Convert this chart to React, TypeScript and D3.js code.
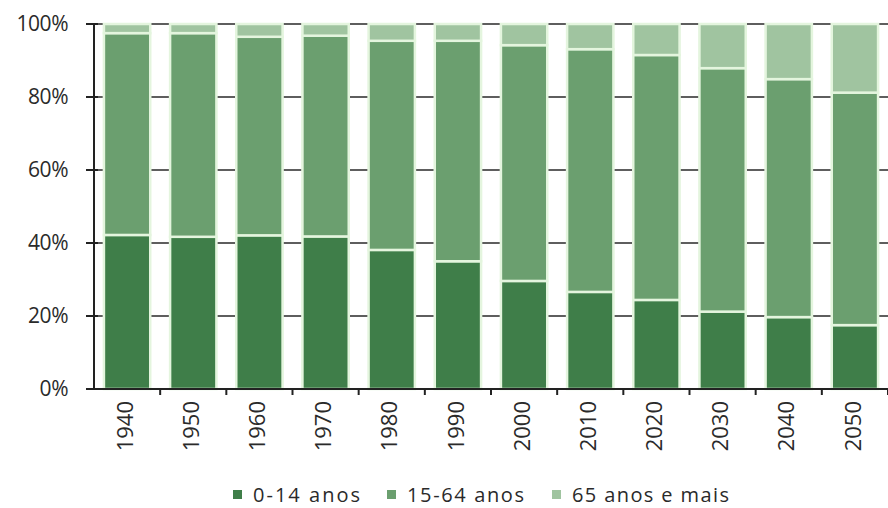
import React from 'react';
import * as d3 from 'd3';

const years = ['1940', '1950', '1960', '1970', '1980', '1990', '2000', '2010', '2020', '2030', '2040', '2050'];
const young = [42.2, 41.7, 42.1, 41.8, 38.1, 35.0, 29.6, 26.6, 24.4, 21.2, 19.7, 17.5];
const old = [2.5, 2.5, 3.5, 3.2, 4.6, 4.6, 5.8, 6.9, 8.5, 12.1, 15.1, 18.8];
const adult = years.map((_, i) => 100 - young[i] - old[i]);

const seriesNames = ['0-14 anos', '15-64 anos', '65 anos e mais'];
const seriesColors = ['#3f7e49', '#6b9f6f', '#a0c4a0'];
const yTicks = [0, 20, 40, 60, 80, 100];

const W = 888;
const H = 508;
const margin = { top: 24, right: 0, bottom: 119, left: 94 };

export default function App() {
  const x = d3.scaleBand<string>()
    .domain(years)
    .range([margin.left, W - margin.right])
    .paddingInner(0.3)
    .paddingOuter(0.15);
  const y = d3.scaleLinear().domain([0, 100]).range([H - margin.bottom, margin.top]);

  const rows = years.map((yr, i) => ({ year: yr, a: young[i], b: adult[i], c: old[i] }));
  const stacked = d3.stack<any>().keys(['a', 'b', 'c'])(rows);

  const step = x.step();
  const boundaries = d3.range(1, years.length + 1).map((i) => margin.left + i * step);
  const font = "'Open Sans', sans-serif";
  const legendX = [233, 387, 552];
  const legendW = [107, 117, 157];

  return (
    <svg width={W} height={H} style={{ position: 'absolute', left: 0, top: 0 }}>
      <rect width={W} height={H} fill="#fff" />
      {/* gridlines */}
      {yTicks.filter((t) => t > 0).map((t) => (
        <line key={t} x1={margin.left} x2={W} y1={y(t)} y2={y(t)} stroke="#5e5e5e" strokeWidth={2} />
      ))}
      {/* bars */}
      {stacked.map((s, si) => (
        <g key={si}>
          {s.map((d, i) => (
            <rect
              key={i}
              x={x(years[i])}
              width={x.bandwidth()}
              y={y(d[1])}
              height={y(d[0]) - y(d[1])}
              fill={seriesColors[si]}
              stroke="#e4f5de"
              strokeWidth={2.5}
            />
          ))}
        </g>
      ))}
      {/* y axis */}
      <line x1={margin.left} x2={margin.left} y1={y(100)} y2={y(0)} stroke="#222" strokeWidth={2} />
      {yTicks.map((t) => (
        <g key={t}>
          <line x1={margin.left - 8} x2={margin.left + 4} y1={y(t)} y2={y(t)} stroke="#222" strokeWidth={2} />
          <text x={68} y={y(t)} dy="0.35em" textAnchor="end" fontFamily={font} fontSize={21}
            letterSpacing={-0.5} fill="#2a2a2a">{t}%</text>
        </g>
      ))}
      {/* x axis */}
      <line x1={margin.left - 8} x2={W} y1={y(0)} y2={y(0)} stroke="#222" strokeWidth={2} />
      {boundaries.map((bx, i) => (
        <line key={i} x1={bx} x2={bx} y1={y(0)} y2={y(0) + 6} stroke="#222" strokeWidth={2} />
      ))}
      {years.map((yr) => {
        const cx = (x(yr) as number) + x.bandwidth() / 2 - 2;
        return (
          <text key={yr} transform={`translate(${cx},${y(0) + 12}) rotate(-90)`} textAnchor="end"
            dy="0.35em" fontFamily={font} fontSize={22} fill="#2a2a2a">{yr}</text>
        );
      })}
      {/* legend */}
      {seriesNames.map((n, i) => (
        <g key={n}>
          <rect x={legendX[i]} y={490} width={9} height={9} fill={seriesColors[i]} />
          <text x={legendX[i] + 20} y={502} fontFamily={font} fontSize={20} fill="#2a2a2a"
            textLength={legendW[i]} lengthAdjust="spacing">{n}</text>
        </g>
      ))}
    </svg>
  );
}
